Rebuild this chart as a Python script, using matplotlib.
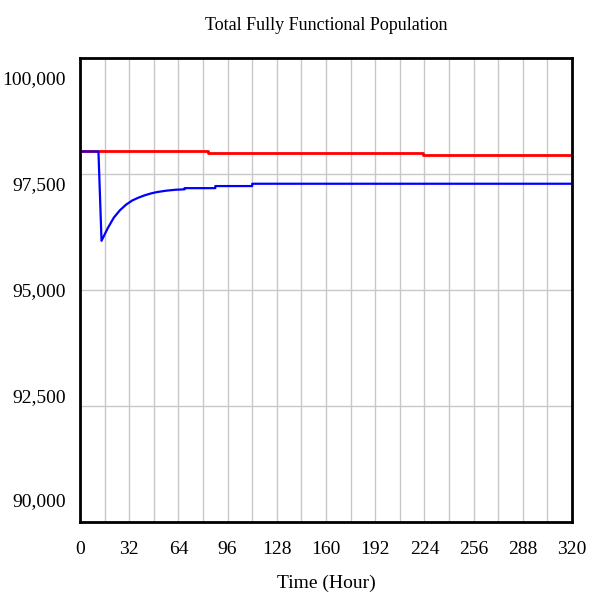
import matplotlib
matplotlib.use("Agg")
import matplotlib.pyplot as plt
import matplotlib.transforms as mtransforms

# Data
red_hours = [0, 83, 83, 223, 223, 320]
red_values = [97985, 97985, 97950, 97950, 97915, 97915]

blue_hours = [0, 12, 14, 18, 22, 26, 30, 34, 38, 42, 46, 50, 56, 62, 68, 68,
              88, 88, 112, 112, 320]
blue_values = [97985, 97985, 96060, 96330, 96560, 96720, 96840, 96930, 96990,
               97040, 97080, 97110, 97140, 97160, 97170, 97195,
               97195, 97240, 97240, 97290, 97290]

x_ticks = [0, 32, 64, 96, 128, 160, 192, 224, 256, 288, 320]
y_ticks = [90000, 92500, 95000, 97500, 100000]
y_tick_labels = ["90,000", "92,500", "95,000", "97,500", "100,000"]

serif = "Liberation Serif"

fig = plt.figure(figsize=(5.96, 6.04), dpi=100)
ax = fig.add_axes([80 / 596, 82 / 604, 492 / 596, 464 / 604])

ax.plot(red_hours, red_values, color="#ff0000", linewidth=2)
ax.plot(blue_hours, blue_values, color="#0000ff", linewidth=1.6)

ax.set_xlim(0, 320)
ax.set_ylim(90000, 100000)

# grid every 16 hours vertically, every 2,500 horizontally
ax.set_xticks(range(0, 321, 16), minor=True)
ax.set_xticks(x_ticks)
ax.set_yticks(y_ticks)
ax.grid(which="both", axis="x", color="#c8c8c8", linewidth=1)
ax.grid(which="major", axis="y", color="#c8c8c8", linewidth=1)
ax.set_axisbelow(True)

ax.set_xticklabels([str(t) for t in x_ticks], fontsize=14, family=serif)
ax.set_yticklabels(y_tick_labels, fontsize=14, family=serif)
ax.tick_params(which="both", length=0)
ax.tick_params(axis="x", pad=14)
ax.tick_params(axis="y", pad=10)

# Vensim spreads the y labels a little inside the axis ends
shifts = [-0.22, -0.10, 0.0, 0.10, 0.20]  # inches, bottom to top
for lab, dy in zip(ax.get_yticklabels(), shifts):
    lab.set_transform(lab.get_transform() +
                      mtransforms.ScaledTranslation(0, -dy, fig.dpi_scale_trans))

for s in ax.spines.values():
    s.set_linewidth(2)
    s.set_color("black")

ax.set_title("Total Fully Functional Population", fontsize=13, pad=20, family=serif)
ax.set_xlabel("Time (Hour)", fontsize=14, labelpad=12, family=serif)

fig.savefig("out.png", dpi=100)
